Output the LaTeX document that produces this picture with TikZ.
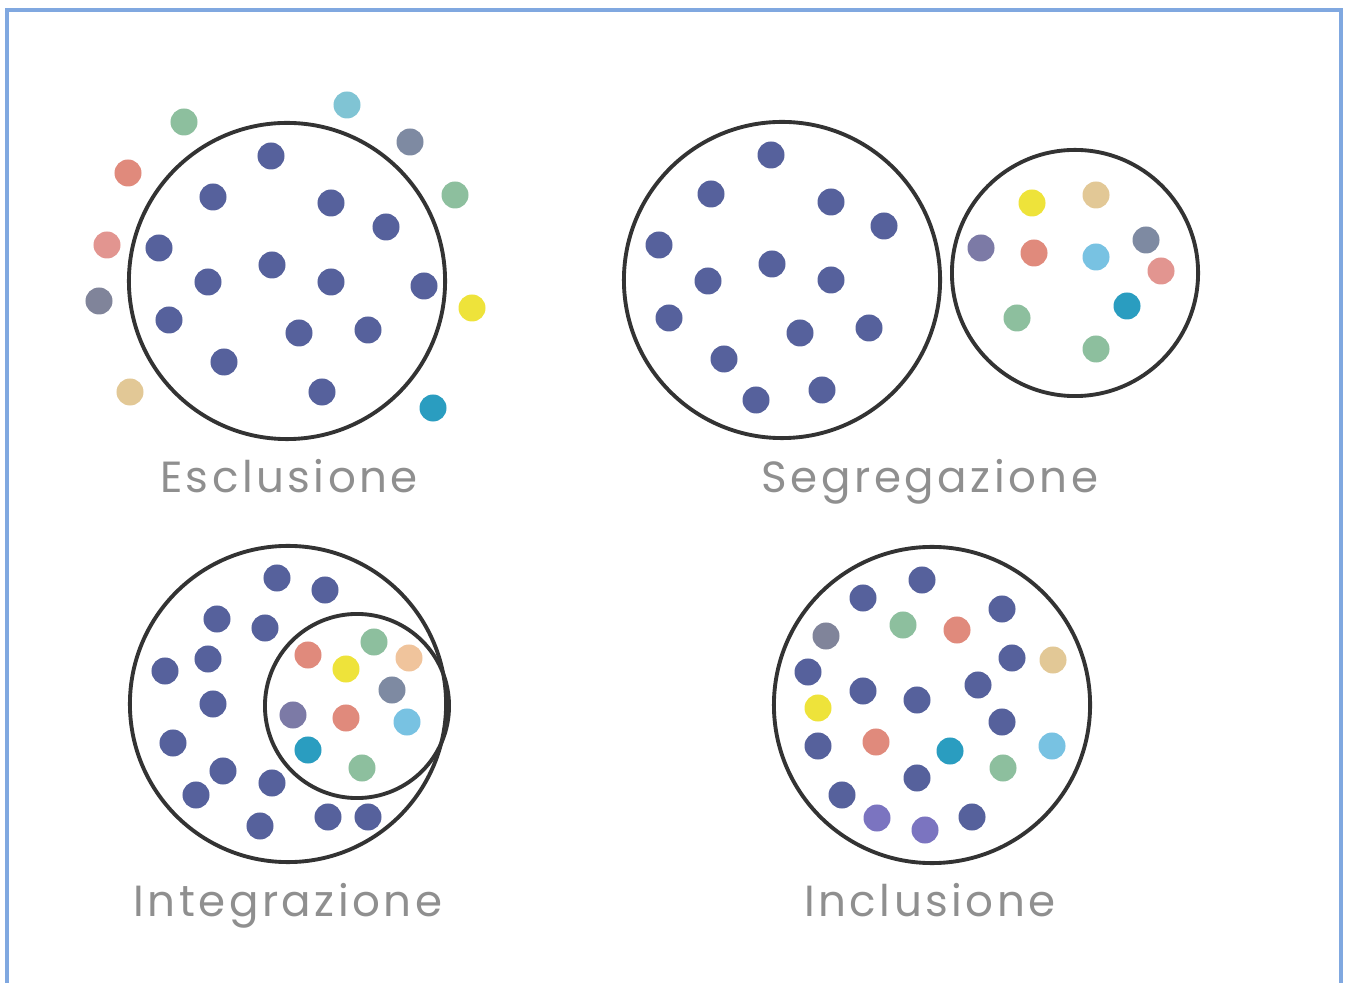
\documentclass[tikz,border=0pt]{standalone}
\usepackage{fontspec}
\newfontfamily\labfont{Poppins}[LetterSpace=8]
\definecolor{frameblue}{HTML}{80A8E0}
\definecolor{ringc}{HTML}{333333}
\definecolor{labc}{HTML}{8F8F8F}
\definecolor{dblue}{HTML}{56619C}
\definecolor{dgreen}{HTML}{8DBF9E}
\definecolor{dcyan}{HTML}{80C4D4}
\definecolor{dgrayblue}{HTML}{7E8AA2}
\definecolor{dsalmon}{HTML}{E08A7C}
\definecolor{dpink}{HTML}{E29590}
\definecolor{dgray}{HTML}{80849A}
\definecolor{dyellow}{HTML}{EEE33A}
\definecolor{dtan}{HTML}{E2C896}
\definecolor{dteal}{HTML}{2A9DC0}
\definecolor{dlblue}{HTML}{78C2E2}
\definecolor{dpurple}{HTML}{7C7AA6}
\definecolor{dpeach}{HTML}{F0C49C}
\definecolor{dviolet}{HTML}{7B74C0}
\tikzset{
  ring/.style={draw=ringc, line width=1.1pt, circle, inner sep=0pt},
  biggroup/.style={ring, minimum size=3.16cm},
  lab/.style={text=labc, font=\labfont\fontsize{12.4}{15}\selectfont, inner sep=0pt, anchor=base}
}
\newcommand{\mydots}[2]{\foreach \p in {#2} {\fill[#1] \p circle (0.135cm);}}
\begin{document}
\begin{tikzpicture}[x=0.01cm, y=-0.01cm]
\useasboundingbox (0,0) rectangle (1346,983);
\draw[frameblue, line width=1.2pt] (7,983) -- (7,10) -- (1341,10) -- (1341,983);

% Esclusione
\node[biggroup] (esc) at (287,281) {};
\mydots{dblue}{(271,156),(213,197),(331,203),(386,227),(159,248),(272,265),(208,282),(331,282),(424,286),(169,320),(299,333),(368,330),(224,362),(322,392)}
\mydots{dgreen}{(184,122),(455,195)}
\mydots{dcyan}{(347,105)}
\mydots{dgrayblue}{(410,142)}
\mydots{dsalmon}{(128,173)}
\mydots{dpink}{(107,245)}
\mydots{dgray}{(99,301)}
\mydots{dyellow}{(472,308)}
\mydots{dtan}{(130,392)}
\mydots{dteal}{(433,408)}
\node[lab] (tesc) at (289,493) {Esclusione};

% Segregazione
\node[biggroup] (segA) at (782,280) {};
\node[ring, minimum size=2.46cm] (segB) at (1075,273) {};
\mydots{dblue}{(771,155),(711,194),(831,202),(884,226),(659,245),(772,264),(708,281),(831,280),(669,318),(800,333),(869,328),(724,359),(756,400),(822,390)}
\mydots{dyellow}{(1032,203)}
\mydots{dtan}{(1096,195)}
\mydots{dpurple}{(981,248)}
\mydots{dsalmon}{(1034,253)}
\mydots{dlblue}{(1096,257)}
\mydots{dgrayblue}{(1146,240)}
\mydots{dpink}{(1161,271)}
\mydots{dteal}{(1127,306)}
\mydots{dgreen}{(1017,318),(1096,349)}
\node[lab] (tseg) at (930,493) {Segregazione};

% Integrazione
\node[biggroup] (intA) at (288,704) {};
\node[ring, minimum size=1.84cm] (intB) at (357,706) {};
\mydots{dblue}{(277,578),(325,590),(217,619),(265,628),(208,659),(165,671),(213,704),(173,743),(223,771),(196,795),(272,783),(260,826),(328,817),(368,817)}
\mydots{dsalmon}{(308,655),(346,718)}
\mydots{dyellow}{(346,669)}
\mydots{dgreen}{(374,642),(362,768)}
\mydots{dpeach}{(409,658)}
\mydots{dgrayblue}{(392,690)}
\mydots{dpurple}{(293,715)}
\mydots{dlblue}{(407,722)}
\mydots{dteal}{(308,750)}
\node[lab] (tint) at (288,916) {Integrazione};

% Inclusione
\node[biggroup] (inc) at (932,705) {};
\mydots{dblue}{(922,580),(863,598),(1002,609),(1012,658),(808,672),(978,685),(863,691),(917,700),(1002,722),(818,746),(917,778),(842,795),(972,817)}
\mydots{dgray}{(826,636)}
\mydots{dgreen}{(903,625),(1003,768)}
\mydots{dsalmon}{(957,630),(876,742)}
\mydots{dtan}{(1053,660)}
\mydots{dyellow}{(818,708)}
\mydots{dteal}{(950,751)}
\mydots{dlblue}{(1052,746)}
\mydots{dviolet}{(877,818),(925,830)}
\node[lab] (tinc) at (930,916) {Inclusione};
\end{tikzpicture}
\end{document}
